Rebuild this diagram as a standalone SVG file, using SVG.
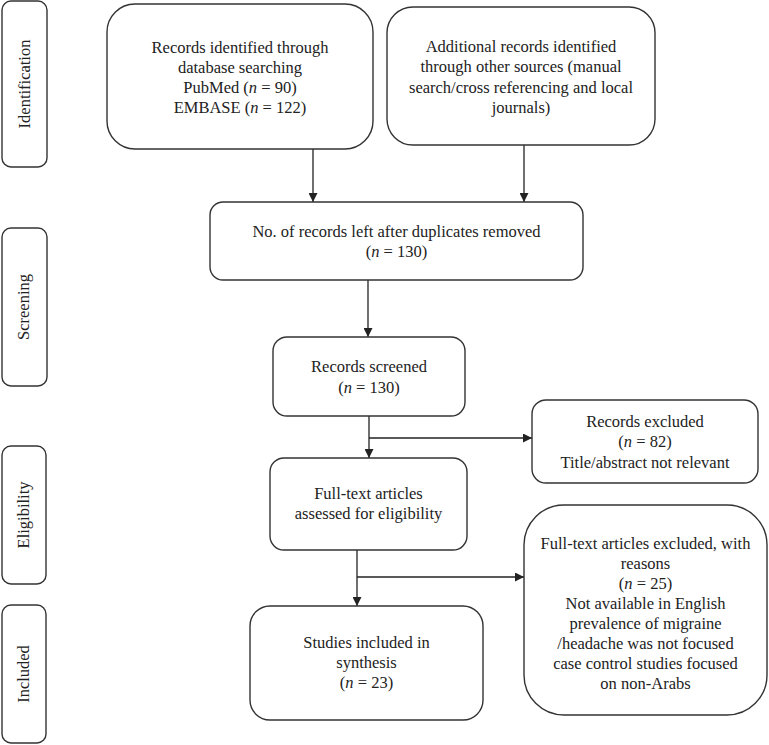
<svg xmlns="http://www.w3.org/2000/svg" width="769" height="745" viewBox="0 0 769 745">
<style>
.box{fill:#fff;stroke:#333;stroke-width:1.4}
.t{font-family:"Liberation Serif","Times New Roman",serif;font-size:16.5px;fill:#222;text-anchor:middle}
.c{fill:none;stroke:#222;stroke-width:1.3}
</style>
<defs>
<marker id="ah" viewBox="0 0 10 10" markerWidth="9" markerHeight="9" refX="10" refY="5" orient="auto" markerUnits="userSpaceOnUse">
<path d="M0,0 L10,5 L0,10 z" fill="#222"/>
</marker>
</defs>
<rect width="769" height="745" fill="#fff"/>
<g id="stage-identification">
<rect class="box" x="2" y="1" width="45" height="166" rx="9"/>
<text class="t" transform="translate(30,84) rotate(-90)">Identification</text>
</g>
<g id="stage-screening">
<rect class="box" x="2" y="228" width="45" height="158" rx="9"/>
<text class="t" transform="translate(29,307) rotate(-90)">Screening</text>
</g>
<g id="stage-eligibility">
<rect class="box" x="2" y="446" width="44" height="138" rx="9"/>
<text class="t" transform="translate(29,515) rotate(-90)">Eligibility</text>
</g>
<g id="stage-included">
<rect class="box" x="2" y="605" width="44" height="138" rx="9"/>
<text class="t" transform="translate(29,674) rotate(-90)">Included</text>
</g>
<g id="connectors">
<line class="c" x1="313" y1="149" x2="313" y2="202" marker-end="url(#ah)"/>
<line class="c" x1="524" y1="145" x2="524" y2="202" marker-end="url(#ah)"/>
<line class="c" x1="368" y1="280" x2="368" y2="337" marker-end="url(#ah)"/>
<line class="c" x1="369" y1="416" x2="369" y2="458" marker-end="url(#ah)"/>
<line class="c" x1="369" y1="438" x2="532" y2="438" marker-end="url(#ah)"/>
<line class="c" x1="357" y1="550" x2="357" y2="606" marker-end="url(#ah)"/>
<line class="c" x1="357" y1="577" x2="524" y2="577" marker-end="url(#ah)"/>
</g>
<g id="n-database">
<rect class="box" x="107" y="4" width="266" height="145" rx="28"/>
<text class="t" x="240" y="53">Records identified through</text>
<text class="t" x="240" y="73">database searching</text>
<text class="t" x="240" y="93">PubMed (<tspan font-style="italic">n</tspan> = 90)</text>
<text class="t" x="240" y="113">EMBASE (<tspan font-style="italic">n</tspan> = 122)</text>
</g>
<g id="n-other">
<rect class="box" x="387" y="7" width="268" height="138" rx="26"/>
<text class="t" x="521" y="52">Additional records identified</text>
<text class="t" x="521" y="72">through other sources (manual</text>
<text class="t" x="521" y="93">search/cross referencing and local</text>
<text class="t" x="521" y="113">journals)</text>
</g>
<g id="n-dedup">
<rect class="box" x="210" y="202" width="373" height="78" rx="13"/>
<text class="t" x="396.5" y="237">No. of records left after duplicates removed</text>
<text class="t" x="396.5" y="257">(<tspan font-style="italic">n</tspan> = 130)</text>
</g>
<g id="n-screened">
<rect class="box" x="273" y="337" width="192" height="79" rx="14"/>
<text class="t" x="369" y="372">Records screened</text>
<text class="t" x="369" y="393">(<tspan font-style="italic">n</tspan> = 130)</text>
</g>
<g id="n-excluded">
<rect class="box" x="532" y="400" width="226" height="83" rx="14"/>
<text class="t" x="645" y="427">Records excluded</text>
<text class="t" x="645" y="447">(<tspan font-style="italic">n</tspan> = 82)</text>
<text class="t" x="645" y="468">Title/abstract not relevant</text>
</g>
<g id="n-fulltext">
<rect class="box" x="270" y="458" width="197" height="92" rx="14"/>
<text class="t" x="368.5" y="499">Full-text articles</text>
<text class="t" x="368.5" y="519">assessed for eligibility</text>
</g>
<g id="n-ft-excluded">
<rect class="box" x="524" y="505" width="243" height="210" rx="40"/>
<text class="t" x="645.5" y="549">Full-text articles excluded, with</text>
<text class="t" x="645.5" y="569">reasons</text>
<text class="t" x="645.5" y="589">(<tspan font-style="italic">n</tspan> = 25)</text>
<text class="t" x="645.5" y="609">Not available in English</text>
<text class="t" x="645.5" y="629">prevalence of migraine</text>
<text class="t" x="645.5" y="649">/headache was not focused</text>
<text class="t" x="645.5" y="669">case control studies focused</text>
<text class="t" x="645.5" y="689">on non-Arabs</text>
</g>
<g id="n-included">
<rect class="box" x="250" y="606" width="233" height="114" rx="20"/>
<text class="t" x="366.5" y="648">Studies included in</text>
<text class="t" x="366.5" y="668">synthesis</text>
<text class="t" x="366.5" y="688">(<tspan font-style="italic">n</tspan> = 23)</text>
</g>
</svg>
